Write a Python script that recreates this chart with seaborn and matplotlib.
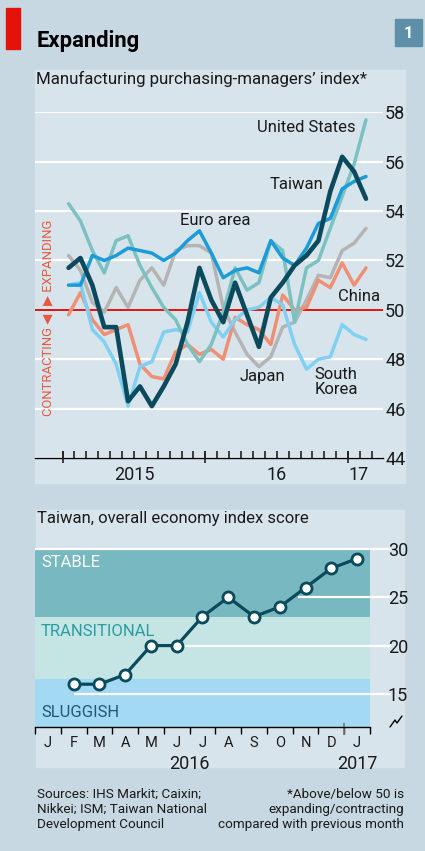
import numpy as np
import pandas as pd
import seaborn as sns
import matplotlib.pyplot as plt
from matplotlib.patches import Rectangle
from matplotlib.lines import Line2D

# =============================
# 1. DATA
# =============================
# monthly PMI, Jan 2015 .. Feb 2017
pmi_month = list(range(26))
euro_area = [51.0, 51.0, 52.2, 52.0, 52.2, 52.5, 52.4, 52.3, 52.0, 52.3, 52.8, 53.2, 52.3,
             51.3, 51.6, 51.7, 51.5, 52.8, 52.1, 51.8, 52.5, 53.5, 53.7, 54.9, 55.2, 55.4]
united_states = [54.3, 53.6, 52.4, 51.5, 52.8, 53.0, 51.8, 50.9, 50.1, 49.6, 48.6, 47.9, 48.6,
                 49.9, 51.7, 50.8, 51.1, 52.8, 52.4, 49.5, 51.7, 52.0, 53.3, 54.6, 55.9, 57.7]
taiwan = [51.7, 52.1, 51.0, 49.3, 49.3, 46.3, 46.9, 46.1, 46.9, 47.8, 49.5, 51.7, 50.4,
          49.5, 51.1, 49.8, 48.5, 50.5, 51.1, 51.8, 52.2, 52.8, 54.8, 56.2, 55.6, 54.5]
japan = [52.2, 51.6, 50.3, 49.9, 50.9, 50.1, 51.2, 51.7, 51.0, 52.4, 52.6, 52.6, 52.3,
         50.1, 49.1, 48.2, 47.7, 48.1, 49.3, 49.5, 50.4, 51.4, 51.3, 52.4, 52.7, 53.3]
china = [49.8, 50.7, 49.6, 49.0, 49.2, 49.4, 47.8, 47.3, 47.2, 48.3, 48.6, 48.2, 48.4,
         48.0, 49.7, 49.4, 49.2, 48.6, 50.6, 50.0, 50.1, 51.2, 50.9, 51.9, 51.0, 51.7]
south_korea = [51.0, 51.1, 49.2, 48.7, 47.8, 46.1, 47.7, 47.9, 49.1, 49.2, 49.1, 50.7, 49.5,
               48.9, 49.6, 50.0, 50.1, 50.5, 50.2, 48.6, 47.6, 48.0, 48.1, 49.4, 49.0, 48.8]
pmi_ticks = [44, 46, 48, 50, 52, 54, 56, 58]
pmi_years = ["2015", "16", "17"]

# Taiwan economy score, Jan 2016 .. Jan 2017 (no January 2016 reading)
score_months = ["J", "F", "M", "A", "M", "J", "J", "A", "S", "O", "N", "D", "J"]
score = [np.nan, 16, 16, 17, 20, 20, 23, 25, 23, 24, 26, 28, 29]
score_ticks = [15, 20, 25, 30]
bands = [("STABLE", 23, 30), ("TRANSITIONAL", 16.5, 23), ("SLUGGISH", 11.6, 16.5)]

# =============================
# 2. STYLE
# =============================
sns.set_style("white")
FONT = ["Roboto", "DejaVu Sans"]
plt.rcParams["font.family"] = FONT
plt.rcParams["text.color"] = "#1a1a1a"
plt.rcParams["xtick.color"] = "#1a1a1a"
plt.rcParams["ytick.color"] = "#1a1a1a"

BG = "#c7d8e2"
PANEL = "#d8e4ec"
colors = {
    "Japan": "#b4b4b4",
    "China": "#ef8f74",
    "South Korea": "#80d0f4",
    "United States": "#7cc1c1",
    "Euro area": "#1b9bd7",
    "Taiwan": "#0b4a5c",
}
band_colors = {"STABLE": "#78b9c1", "TRANSITIONAL": "#c5e4e4", "SLUGGISH": "#a3d9f2"}
band_text = {"STABLE": "white", "TRANSITIONAL": "#2a9da2", "SLUGGISH": "#1e5a70"}

W, H = 425, 851
def fx(px):
    return px / W
def fy(py):
    return 1 - py / H

fig = plt.figure(figsize=(W / 100, H / 100), dpi=100)
fig.patch.set_facecolor(BG)

# panels, red flag, chart number
for x0, y0, x1, y1 in [(35, 70, 405, 483), (36, 510, 404, 767)]:
    fig.patches.append(Rectangle((fx(x0), fy(y1)), fx(x1) - fx(x0), fy(y0) - fy(y1),
                                 transform=fig.transFigure, color=PANEL, zorder=-2))
fig.patches.append(Rectangle((fx(6), fy(49)), fx(20) - fx(6), fy(8) - fy(49),
                             transform=fig.transFigure, color="#e3120b", zorder=-1))
fig.patches.append(Rectangle((fx(395), fy(46)), fx(422) - fx(395), fy(19) - fy(46),
                             transform=fig.transFigure, color="#5d8fa9", zorder=-1))
fig.text(fx(408.5), fy(33), "1", color="white", fontsize=12, fontweight="bold",
         ha="center", va="center")
fig.text(fx(37), fy(41), "Expanding", fontsize=15.8, fontweight="bold", ha="left",
         va="center", color="black")
fig.text(fx(36), fy(79), "Manufacturing purchasing-managers\u2019 index*", fontsize=12.2,
         ha="left", va="center")

# =============================
# 3. TOP PANEL: PMI
# =============================
ax1 = fig.add_axes([fx(35), fy(458), fx(383) - fx(35), fy(112.3) - fy(458)])
ax1.set_facecolor("none")
ax1.set_zorder(2)

series = {
    "Japan": japan,
    "China": china,
    "South Korea": south_korea,
    "United States": united_states,
    "Euro area": euro_area,
    "Taiwan": taiwan,
}
df = pd.concat([pd.DataFrame({"month": pmi_month, "pmi": v, "country": k})
                for k, v in series.items()], ignore_index=True)

for i, name in enumerate(series):
    sns.lineplot(data=df[df["country"] == name], x="month", y="pmi", color=colors[name],
                 linewidth=3.3 if name == "Taiwan" else 2.5, ax=ax1, zorder=3 + i,
                 legend=False)

ax1.set_xlim(-2.82, 26.43)
ax1.set_ylim(44, 58)
ax1.set_yticks(pmi_ticks)
ax1.yaxis.tick_right()
ax1.tick_params(axis="y", length=0, pad=1.5, labelsize=13)
ax1.grid(axis="y", color="white", linewidth=1.6)
ax1.set_axisbelow(True)
ax1.axhline(50, color="#e3120b", linewidth=1.4, zorder=2)
for s in ["top", "left", "right"]:
    ax1.spines[s].set_visible(False)
ax1.spines["bottom"].set_color("black")
ax1.spines["bottom"].set_linewidth(1.0)

# month ticks at boundaries, taller at year boundaries
ax1.set_xticks([])
month_edges = np.arange(-0.5, 26, 1)
ax1.vlines(month_edges, 44, 44.27, color="#222222", linewidth=1.2, clip_on=False, zorder=6)
ax1.vlines([-0.5, 11.5, 23.5], 43.78, 44.27, color="#222222", linewidth=1.2, clip_on=False,
           zorder=6)
ax1.set_xlabel("")
ax1.set_ylabel("")
for lab, xpos in zip(pmi_years, [5.5, 17.5, 24.4]):
    ax1.text(xpos, -0.05, lab, transform=ax1.get_xaxis_transform(), ha="center", va="center",
             fontsize=13)

# series labels
lab_kw = dict(va="center", fontsize=12)
ax1.text(24.1, 57.37, "United States", ha="right", **lab_kw)
ax1.text(21.4, 55.06, "Taiwan", ha="right", **lab_kw)
ax1.text(9.37, 53.6, "Euro area", ha="left", **lab_kw)
ax1.text(22.65, 50.56, "China", ha="left", **lab_kw)
ax1.text(14.4, 47.32, "Japan", ha="left", **lab_kw)
ax1.text(20.7, 47.08, "South\nKorea", ha="left", linespacing=1.0, **lab_kw)

# expanding / contracting note
fig.text(fx(48), fy(305), "\u25b6 EXPANDING", rotation=90, ha="center", va="bottom",
         color="#e8583f", fontsize=9.4)
fig.text(fx(48), fy(314), "CONTRACTING \u25c0", rotation=90, ha="center", va="top",
         color="#e8583f", fontsize=9.4)

# =============================
# 4. BOTTOM PANEL: TAIWAN SCORE
# =============================
fig.text(fx(37), fy(519), "Taiwan, overall economy index score", fontsize=12,
         ha="left", va="center")

ax2 = fig.add_axes([fx(35.1), fy(726.7), fx(369.9) - fx(35.1), fy(549) - fy(726.7)])
ax2.set_facecolor("none")
ax2.set_zorder(2)
for name, lo, hi in bands:
    ax2.axhspan(lo, hi, color=band_colors[name], zorder=0, linewidth=0)
band_y = {"STABLE": 28.65, "TRANSITIONAL": 21.46, "SLUGGISH": 13.1}
for name, lo, hi in bands:
    ax2.text(-0.27, band_y[name], name, color=band_text[name], fontsize=12, va="center")

grid_start = {30: -0.5, 25: 9.7, 20: 5.2, 15: 1.0}
for yv, x0 in grid_start.items():
    ax2.hlines(yv, x0, 13.3, color="white", linewidth=1.6, zorder=1, clip_on=False)

score_df = pd.DataFrame({"month": range(len(score_months)), "score": score})
sns.lineplot(data=score_df.dropna(), x="month", y="score", color="#0b4a5c", linewidth=2.3,
             marker="o", markersize=8, markerfacecolor="white", markeredgecolor="#0b4a5c",
             markeredgewidth=2, ax=ax2, zorder=4)

ax2.set_xlim(-0.5, 12.5)
ax2.set_ylim(11.6, 30)
ax2.set_yticks(score_ticks)
ax2.yaxis.tick_right()
ax2.tick_params(axis="y", length=0, pad=13, labelsize=13)
ax2.set_xticks(range(len(score_months)))
ax2.set_xticklabels(score_months)
ax2.set_xticks(np.arange(-0.5, 13, 1), minor=True)
ax2.tick_params(axis="x", which="major", length=0, pad=7, labelsize=10.5)
ax2.tick_params(axis="x", which="minor", bottom=True, direction="out", length=5, width=1,
                color="black")
ax2.vlines(11.5, 10.7, 12.0, color="#777777", linewidth=1.2, clip_on=False, zorder=5)
ax2.set_xlabel("")
ax2.set_ylabel("")
ax2.grid(False)
for s in ["top", "left", "right"]:
    ax2.spines[s].set_visible(False)
ax2.spines["bottom"].set_color("black")
ax2.spines["bottom"].set_linewidth(1.0)
ax2.spines["bottom"].set_zorder(6)
ax2.text(5.5, -0.21, "2016", transform=ax2.get_xaxis_transform(), ha="center", va="center",
         fontsize=13)
ax2.text(12, -0.21, "2017", transform=ax2.get_xaxis_transform(), ha="center", va="center",
         fontsize=13)

# axis break mark
fig.lines.append(Line2D([fx(390), fx(395), fx(397), fx(402)],
                        [fy(727), fy(720), fy(723), fy(716)],
                        transform=fig.transFigure, color="black", linewidth=1.0))

# =============================
# 5. FOOTNOTES
# =============================
fig.text(fx(37), fy(788), "Sources: IHS Markit; Caixin;\nNikkei; ISM; Taiwan National\n"
         "Development Council", fontsize=9.7, ha="left", va="top", linespacing=1.2)
fig.text(fx(404), fy(788), "*Above/below 50 is\nexpanding/contracting\n"
         "compared with previous month", fontsize=9.7, ha="right", va="top",
         multialignment="right", linespacing=1.2)

plt.savefig("out.png", dpi=100, facecolor=BG)
